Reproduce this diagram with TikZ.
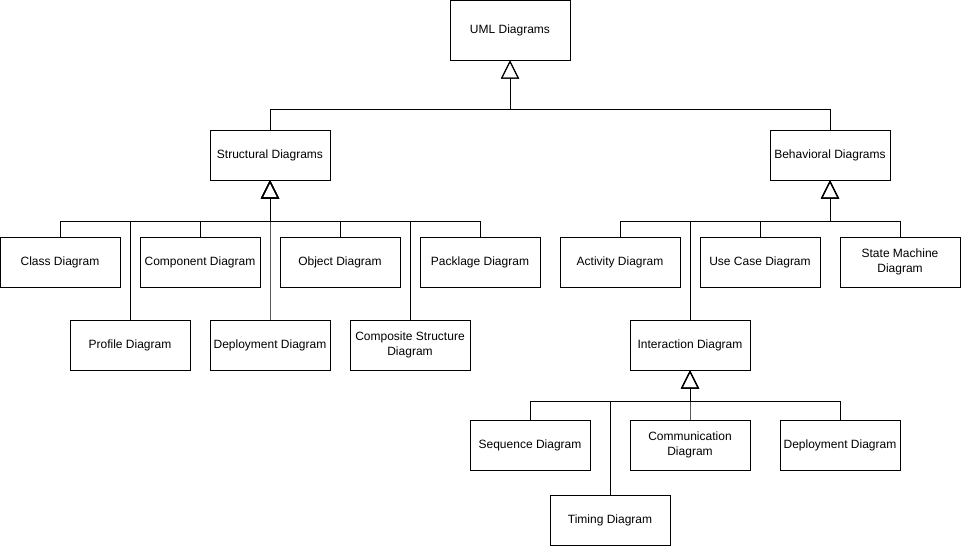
\documentclass[tikz,border=0pt]{standalone}
\usepackage{fontspec}
\setmainfont{Liberation Sans}
\usetikzlibrary{arrows.meta}
\begin{document}
\begin{tikzpicture}[x=1pt,y=-1pt,
  box/.style={draw=black,line width=1pt,fill=white,minimum width=120pt,minimum height=50pt,inner sep=0pt,align=center,font=\fontsize{12}{14.5}\selectfont},
  gen/.style={draw=black,line width=1pt,-{Triangle[open,length=18pt,width=18pt]}}]
\useasboundingbox (0,0) rectangle (961,546);
% nodes
\node[box,minimum height=60pt] (uml) at (510,30) {UML Diagrams};
\node[box] (str) at (270,155) {Structural Diagrams};
\node[box] (beh) at (830,155) {Behavioral Diagrams};
\node[box] (cls) at (60,262) {Class Diagram};
\node[box] (cmp) at (200,262) {Component Diagram};
\node[box] (obj) at (340,262) {Object Diagram};
\node[box] (pkg) at (480,262) {Packlage Diagram};
\node[box] (act) at (620,262) {Activity Diagram};
\node[box] (use) at (760,262) {Use Case Diagram};
\node[box] (stm) at (900,262) {State Machine\\Diagram};
\node[box] (prf) at (130,345) {Profile Diagram};
\node[box] (dep) at (270,345) {Deployment Diagram};
\node[box] (cst) at (410,345) {Composite Structure\\Diagram};
\node[box] (int) at (690,345) {Interaction Diagram};
\node[box] (seq) at (530,445) {Sequence Diagram};
\node[box] (com) at (690,445) {Communication\\Diagram};
\node[box] (dep2) at (840,445) {Deployment Diagram};
\node[box] (tim) at (610,520) {Timing Diagram};
% bus points
\coordinate (b1) at (510,109);
\coordinate (b2) at (270,221);
\coordinate (b3) at (830,221);
\coordinate (b4) at (690,401);
% connectors
\draw[gen] (str.north) |- (b1) -- (uml.south);
\draw[gen] (beh.north) |- (b1) -- (uml.south);
\foreach \c in {cls,cmp,obj,pkg,prf,dep,cst}
  \draw[gen] (\c.north) |- (b2) -- (str.south);
\foreach \c in {act,use,stm,int}
  \draw[gen] (\c.north) |- (b3) -- (beh.south);
\foreach \c in {seq,com,dep2,tim}
  \draw[gen] (\c.north) |- (b4) -- (int.south);
\end{tikzpicture}
\end{document}
